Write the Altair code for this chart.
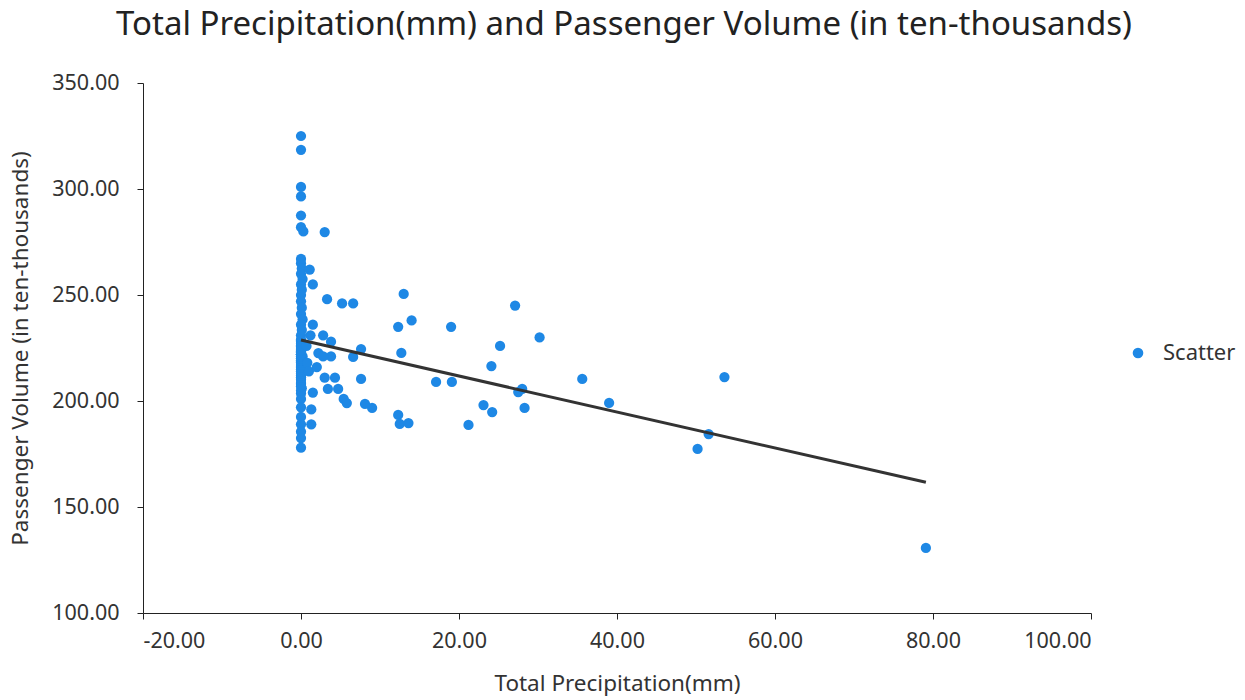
import altair as alt
import pandas as pd

# Column of points at (near) zero precipitation (visible ones)
col_precip = [0.0, 0.0, 0.0, 0.0, 0.0, 0.0, 0.0, 0.0, 0.1, 0.0, 0.2, 0.0, 0.1, 0.0, 0.0,
              0.1, 0.0, 0.2, 0.0, 0.1, 0.0, 0.0, 0.1, 0.0, 0.2, 0.0, 0.0, 0.1, 0.0, 0.0,
              0.1, 0.0, 0.0, 0.0, 0.0, 0.0, 0.0, 0.0, 0.0]
col_volume = [325.0, 318.5, 301.0, 296.5, 287.5, 282.0, 267.0, 265.0, 262.5, 260.0, 257.5,
              255.0, 252.5, 250.0, 247.0, 244.0, 241.0, 238.5, 236.0, 233.5, 231.0, 228.5,
              226.0, 223.5, 221.0, 218.5, 216.0, 213.5, 211.0, 208.5, 206.0, 203.5, 201.0,
              197.0, 192.5, 189.0, 185.5, 182.5, 178.0]

# Overlapping points hidden inside the dense zero-precipitation column
dense_precip = [0.0] * 32
dense_volume = [205.0, 207.0, 208.0, 210.0, 211.0, 212.0, 213.0, 214.0, 215.0, 216.0, 217.0,
                218.0, 218.0, 219.0, 219.0, 220.0, 220.0, 221.0, 221.0, 222.0, 222.0, 223.0,
                224.0, 225.0, 226.0, 227.0, 228.0, 229.0, 226.0, 222.0, 224.0, 226.0]

near_precip = [0.3, 1.1, 1.5, 1.5, 2.8, 3.8, 2.2, 3.8, 2.8, 3.0, 4.3, 3.4, 4.7, 1.5, 1.3,
               1.3, 0.8, 1.0, 2.0, 0.7, 1.2]
near_volume = [280.0, 262.0, 255.0, 236.0, 231.0, 228.0, 222.6, 221.0, 221.0, 211.0, 211.0,
               205.7, 205.7, 204.0, 196.0, 189.0, 218.0, 214.0, 216.0, 226.0, 231.0]

far_precip = [3.0, 3.3, 5.2, 6.6, 13.0, 14.0, 12.3, 19.0, 27.1, 30.2, 25.2, 7.6, 12.7, 6.6,
              24.1, 7.6, 17.1, 19.1, 35.6, 53.6, 28.0, 27.5, 39.0, 5.4, 5.8, 8.1, 9.0, 23.1,
              24.2, 28.3, 12.3, 12.5, 13.6, 21.2, 51.6, 50.2, 79.1]
far_volume = [279.7, 248.0, 246.0, 246.0, 250.5, 238.0, 235.0, 235.0, 245.0, 230.0, 226.0,
              224.5, 222.7, 220.8, 216.5, 210.4, 209.0, 209.0, 210.4, 211.3, 205.7, 204.2,
              199.1, 201.0, 199.0, 198.6, 196.7, 198.1, 194.8, 196.7, 193.4, 189.2, 189.6,
              188.7, 184.4, 177.4, 130.7]

precip = col_precip + dense_precip + near_precip + far_precip
volume = col_volume + dense_volume + near_volume + far_volume

df = pd.DataFrame({"precip": precip, "volume": volume, "series": "Scatter"})

FONT = "Noto Sans"
x_ticks = [-20, 0, 20, 40, 60, 80, 100]
y_ticks = [100, 150, 200, 250, 300, 350]

label_expr = "(datum.value < 0 ? '-' : '') + format(abs(datum.value), '.2f')"

x_enc = alt.X("precip:Q", title="Total Precipitation(mm)",
              scale=alt.Scale(domain=[-20, 100], nice=False, zero=False),
              axis=alt.Axis(values=x_ticks, labelExpr=label_expr, labelPadding=11,
                            titlePadding=21))
y_enc = alt.Y("volume:Q", title="Passenger Volume (in ten-thousands)",
              scale=alt.Scale(domain=[100, 350], nice=False, zero=False),
              axis=alt.Axis(values=y_ticks, labelExpr=label_expr, labelPadding=18,
                            titlePadding=19))

points = alt.Chart(df).mark_circle(size=105, opacity=1).encode(
    x=x_enc, y=y_enc,
    color=alt.Color("series:N", scale=alt.Scale(range=["#1E88E5"]),
                    legend=alt.Legend(title=None, orient="none", legendX=984, legendY=259,
                                      labelFontSize=22, labelFont=FONT, labelColor="#333",
                                      symbolSize=113, symbolType="circle", labelOffset=14,
                                      symbolStrokeWidth=0)),
)

line = alt.Chart(df).transform_regression("precip", "volume", method="linear").mark_line(
    color="#333333", strokeWidth=3
).encode(x="precip:Q", y="volume:Q")

chart = alt.layer(points, line).properties(
    width=948, height=530,
    title=alt.TitleParams("Total Precipitation(mm) and Passenger Volume (in ten-thousands)",
                          fontSize=33, font=FONT, fontWeight="normal", color="#222",
                          anchor="middle", offset=30, dx=7),
    autosize=alt.AutoSizeParams(type="none"),
    padding={"left": 143, "top": 83, "right": 154, "bottom": 87},
).configure_view(stroke=None).configure_axis(
    grid=False, domainColor="#222", tickColor="#222", tickSize=6,
    labelFontSize=21.5, titleFontSize=22.5, labelColor="#333", titleColor="#333",
    labelFont=FONT, titleFont=FONT, titleFontWeight="normal"
)

chart.save("out.html", embed_options={"renderer": "svg", "actions": False})
